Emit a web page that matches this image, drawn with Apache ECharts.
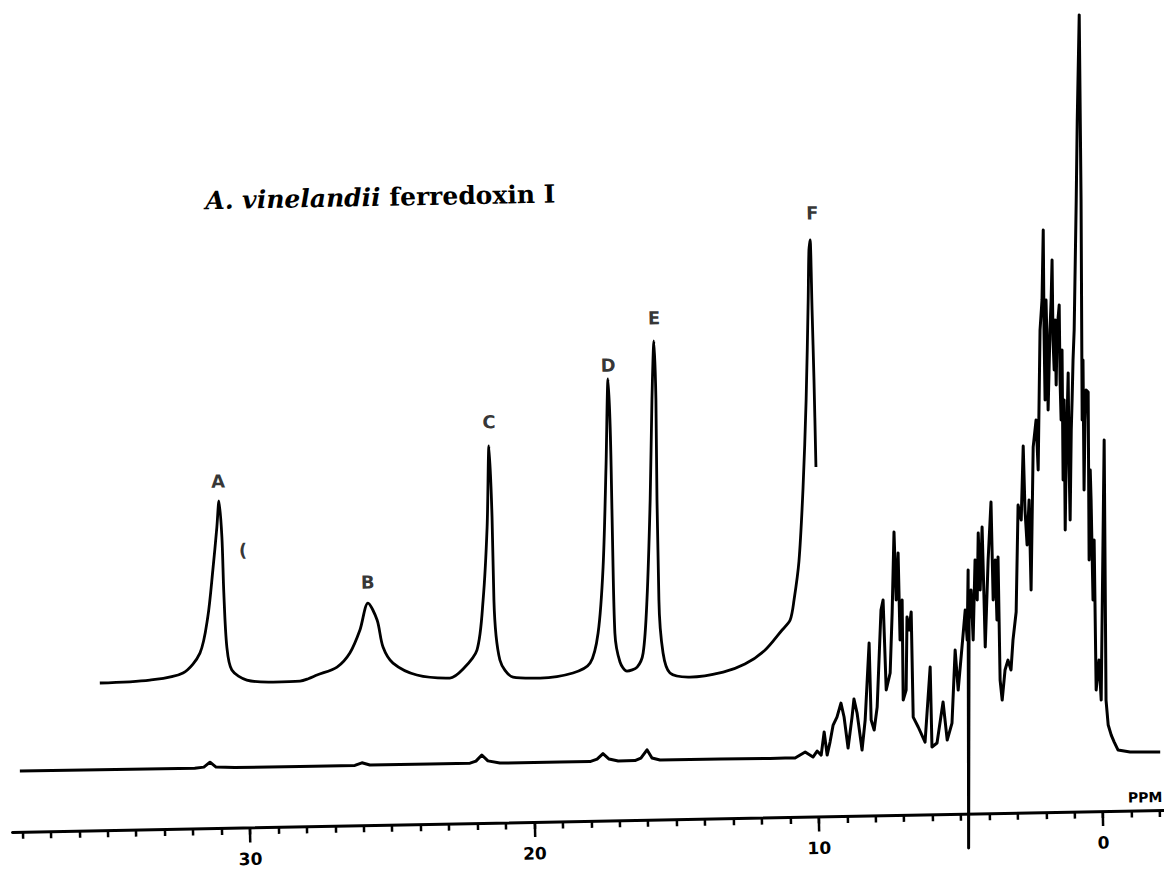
<!DOCTYPE html>
<html><head><meta charset="utf-8">
<script src="https://cdn.jsdelivr.net/npm/echarts@6/dist/echarts.min.js"></script>
<style>
html,body{margin:0;padding:0;background:#fff;overflow:hidden}
#c{width:1164px;height:872px;transform:rotate(-1.1deg);transform-origin:582px 436px}
</style></head>
<body><div id="c"></div>
<script>
// expanded paramagnetic region (upper trace): ppm and intensity
const upperPPM = [35.18,33.42,32.25,31.64,31.34,31.13,30.96,30.87,30.79,30.76,
  30.69,30.53,30.01,29.09,28.14,27.85,27.54,26.83,26.37,26.00,25.70,
  25.39,25.20,24.86,24.03,22.87,22.40,21.90,21.65,21.46,21.34,
  21.28,21.27,21.10,20.65,19.70,18.54,17.93,17.63,17.41,17.24,
  17.11,17.06,17.06,17.04,16.88,16.64,16.28,16.06,15.89,15.71,
  15.58,15.47,15.44,15.47,15.47,15.36,15.13,14.43,13.26,12.49,
  11.77,11.16,10.87,10.72,10.52,10.33,10.16,10.02,9.96,9.91,
  9.89,9.87,9.86];
const upperInt = [147.3,149.3,155.7,175.3,211.2,258.1,301,327,290.9,234.9,
  180.8,157.7,147.4,144.9,145.4,147.6,151.1,158.7,172.5,195.3,222.1,
  204.9,177.8,161.6,149.2,145.5,154.3,173,222.9,295.8,376.8,
  305.7,222.7,162.6,145.3,143.8,148.2,157.8,187.7,253.6,353.5,
  441.5,353.4,253.4,187.4,158.3,149.1,152.9,166.8,219.8,319.7,
  419.6,478.6,419.6,319.6,219.5,166.4,146.3,141.9,146.3,153.9,
  167.5,187.2,197,216.9,255.8,327.8,416.7,516.7,566.6,576.6,
  506.6,436.5,349.5];

// full spectrum (lower trace): ppm and intensity
const lowerPPM = [38.05,35.24,31.90,31.58,31.36,31.15,30.49,28.20,26.27,26.02,
  25.74,23.63,22.22,22.01,21.80,21.59,21.17,19.06,18.00,17.75,
  17.54,17.33,17.01,16.42,16.21,15.99,15.82,15.54,13.43,11.67,
  11.14,
  10.79,10.43,10.16,10.01,9.87,9.75,9.66,9.55,9.43,9.29,
  9.14,9.04,8.92,8.76,8.68,8.58,8.43,8.30,8.11,8.09,
  7.99,7.87,7.67,7.59,7.54,7.39,
  7.28,7.16,7.13,7.03,7.02,6.92,6.95,6.84,6.76,6.70,6.61,6.61,
  6.44,6.21,5.98,5.97,5.79,5.55,5.43,5.25,
  5.09,5.01,4.84,4.71,4.66,4.58,4.75,4.58,4.49,4.45,
  4.33,4.28,4.20,4.17,4.06,4.04,4.03,3.87,3.73,3.72,
  3.62,3.60,3.52,3.53,3.47,3.35,3.24,3.14,3.05,2.92,
  2.78,2.68,2.56,2.54,2.49,2.39,2.38,2.21,2.09,2.05,
  1.89,1.80,1.71,1.75,1.76,1.66,1.65,1.66,1.54,1.48,
  1.42,1.44,1.42,1.35,1.36,1.29,1.20,1.22,1.21,1.13,
  1.18,1.09,1.14,1.05,1.00,0.93,0.96,0.96,0.86,0.81,
  0.75,0.69,0.53,0.44,0.30,0.36,0.47,0.40,0.45,0.37,
  0.31,0.24,0.32,0.22,0.21,0.21,0.21,0.13,0.16,
  0.04,-0.01,-0.29,-0.18,-0.24,-0.34,-0.44,-0.57,-0.99,-2.05];
const lowerInt = [60.8,60.6,60.3,61.2,66,61,60.2,60,60,62.5,
  60.1,59.9,60,62,68,62,59.6,59.4,59.3,61.7,
  67,61.5,59.3,59.5,61.9,70,61.7,59.5,59.4,58.9,
  59.1,
  59,64.7,59.6,65.5,61.4,84.4,61.3,74.2,91.2,99.1,
  113,99,67.9,98.8,116.8,102.7,65.6,95.6,172.5,95.5,
  85.4,108.3,205.3,215.2,125.2,142.1,
  202,283,215,261.9,174.9,214.9,114.8,124.8,197.8,184.7,202.7,97.6,
  87.6,72.4,147.3,67.3,71.2,112.1,74,90.9,
  163.8,123.8,168.7,203.6,173.6,243.6,-34.4,193.6,223.5,173.5,
  253.5,213.4,280.4,223.4,286.3,213.3,166.3,253.2,311.2,213.1,
  253.1,193.0,256.0,133.0,112.9,142.9,152.8,142.8,172.7,200.7,
  307.6,292.6,366.5,302.5,267.5,312.4,222.4,365.3,392.3,342.2,
  482.2,512.2,582.2,482.1,412.1,512.1,462.1,402,482,512,
  552,472,441.9,491.9,426.9,481.9,506.8,431.8,391.8,461.8,
  331.8,411.7,281.7,361.7,391.7,438.7,351.6,291.6,381.6,411.6,
  451.6,481.6,611.5,691.5,796.5,611.4,391.4,451.4,321.4,391.3,
  421.3,419.3,251.3,341.2,311.2,251.2,211.2,271.2,121.1,
  151.1,111,371,110.9,85.9,75.8,68.8,60.7,58.5,57.9];

// peak letters
const peakNames = ['A','B','C','D','E','F','('];
const peakPPM   = [30.89,25.69,21.32,17.10,15.45,9.82,30.06];
const peakInt   = [347,243,401,455.5,501.6,603.6,277.5];

// axis: visible range; minor-tick range (step 1) and major-tick range (step 10)
const axisRange  = [-2.4, 38.35];
const minorRange = [-2, 38];
const minorStep  = 1;
const majorRange = [0, 30];
const majorStep  = 10;
const titleParts = ['A. vinelandii','ferredoxin I'];

const zip = (a,b)=>a.map((v,i)=>[v,b[i]]);
const chart = echarts.init(document.getElementById('c'), null, {renderer:'svg'});
const ink = '#000';
// grids share one ppm scale; each tick grid covers only its own range
const gLeft = 5, gRight = 0, W = 1164, gBottom = 51;
const pxPer = (W - gLeft - gRight) / (axisRange[1] - axisRange[0]);
const sub = r => ({left: gLeft + (axisRange[1] - r[1]) * pxPer,
                   right: gRight + (r[0] - axisRange[0]) * pxPer, top:0, bottom:gBottom});

chart.setOption({
  animation:false,
  backgroundColor:'#fff',
  title:{text:'{i|'+titleParts[0]+'} {n|'+titleParts[1]+'}', left:205, top:176,
    textStyle:{fontFamily:'DejaVu Serif', fontSize:25, fontWeight:'bold', color:ink,
      rich:{i:{fontFamily:'DejaVu Serif', fontStyle:'italic', fontWeight:'bold', fontSize:25, color:ink},
            n:{fontFamily:'DejaVu Serif', fontWeight:'bold', fontSize:25, color:ink}}}},
  grid:[
    {left:gLeft, right:gRight, top:0, bottom:gBottom},
    sub(minorRange),
    sub(majorRange)
  ],
  xAxis:[
    {type:'value', gridIndex:0, min:axisRange[0], max:axisRange[1], inverse:true, position:'bottom',
      splitLine:{show:false},
      axisLine:{show:true, lineStyle:{color:ink, width:3}},
      axisTick:{show:false}, axisLabel:{show:false}},
    {type:'value', gridIndex:1, min:minorRange[0], max:minorRange[1], interval:minorStep,
      inverse:true, position:'bottom', splitLine:{show:false}, axisLine:{show:false},
      axisTick:{show:true, length:7, lineStyle:{color:ink, width:2.5}},
      axisLabel:{show:false}},
    {type:'value', gridIndex:2, min:majorRange[0], max:majorRange[1], interval:majorStep,
      inverse:true, position:'bottom', splitLine:{show:false}, axisLine:{show:false},
      axisTick:{show:true, length:15, lineStyle:{color:ink, width:2.5}},
      axisLabel:{show:true, margin:23, fontFamily:'DejaVu Sans',
        fontWeight:'bold', fontSize:17, color:ink}}
  ],
  yAxis:[
    {type:'value', gridIndex:0, min:0, max:821, show:false},
    {type:'value', gridIndex:1, min:0, max:821, show:false},
    {type:'value', gridIndex:2, min:0, max:821, show:false}
  ],
  graphic:[{type:'text', x:1138, y:808, style:{text:'PPM', font:'bold 14px "DejaVu Sans"',
    fill:ink, align:'center', verticalAlign:'middle'}}],
  series:[
    {type:'line', xAxisIndex:0, yAxisIndex:0, data:zip(upperPPM, upperInt), showSymbol:false,
      clip:false, smooth:0.3, lineStyle:{color:ink, width:2.8, join:'round'}},
    {type:'line', xAxisIndex:0, yAxisIndex:0, data:zip(lowerPPM, lowerInt), showSymbol:false,
      clip:false, lineStyle:{color:ink, width:3, join:'round'}},
    {type:'scatter', xAxisIndex:0, yAxisIndex:0,
      data:peakNames.map((n,i)=>({name:n, value:[peakPPM[i], peakInt[i]]})),
      symbolSize:1, itemStyle:{color:'rgba(0,0,0,0)'}, clip:false,
      label:{show:true, position:'inside', formatter:'{b}', fontFamily:'DejaVu Sans',
        fontWeight:'bold', fontSize:18, color:ink}}
  ]
});
</script></body></html>
